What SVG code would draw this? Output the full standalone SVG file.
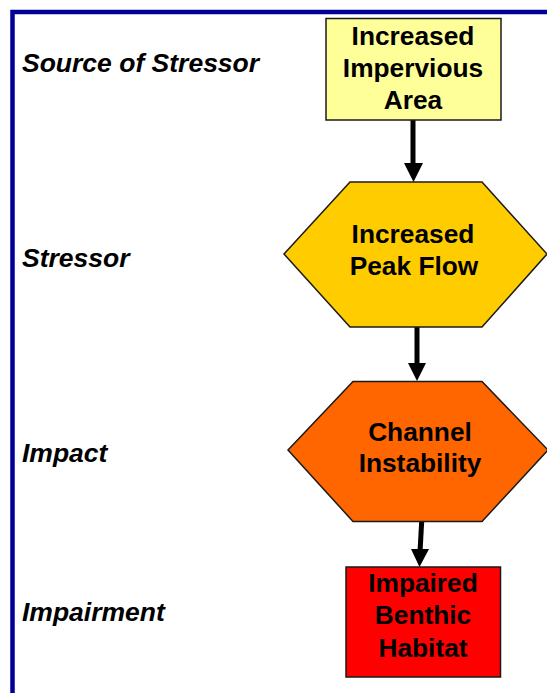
<svg xmlns="http://www.w3.org/2000/svg" width="547" height="693" viewBox="0 0 547 693">
<style>
.lbl{font-family:"Liberation Sans",Arial,sans-serif;font-weight:bold;font-style:italic;font-size:26.5px;fill:#000}
.nt{font-family:"Liberation Sans",Arial,sans-serif;font-weight:bold;font-size:26.3px;fill:#000;text-anchor:middle}
.shape{stroke:#1a1a1a;stroke-width:1.5}
.conn line{stroke:#000;stroke-width:5}
.conn polygon{fill:#000}
</style>
<rect x="0" y="0" width="547" height="693" fill="#fff"/>
<rect x="12.5" y="12" width="600" height="800" fill="none" stroke="#000099" stroke-width="4.5"/>
<g id="labels">
<text class="lbl" x="22" y="72">Source of Stressor</text>
<text class="lbl" x="22" y="267">Stressor</text>
<text class="lbl" x="22" y="462">Impact</text>
<text class="lbl" x="22" y="621">Impairment</text>
</g>
<g id="connectors" class="conn">
<line x1="413" y1="120" x2="413" y2="166"/>
<polygon points="404,163 423,163 413.5,182"/>
<line x1="417" y1="327" x2="417" y2="366"/>
<polygon points="408,363 426,363 417,381"/>
<line x1="421.7" y1="521" x2="420" y2="552"/>
<polygon points="411,549 429,549 419.5,567"/>
</g>
<g id="node-impervious">
<rect class="shape" x="326" y="18.5" width="175" height="101.5" fill="#FFFF99"/>
<text class="nt" x="413" y="44.5">Increased</text>
<text class="nt" x="413" y="77">Impervious</text>
<text class="nt" x="413" y="108.5">Area</text>
</g>
<g id="node-peakflow">
<polygon class="shape" points="350,182 482,182 547,254 482,327 350,327 284,254" fill="#FFCC00"/>
<text class="nt" x="413" y="243">Increased</text>
<text class="nt" x="414" y="275">Peak Flow</text>
</g>
<g id="node-channel">
<polygon class="shape" points="353,381.5 482,381.5 548,450 482,521.5 353,521.5 288,450" fill="#FF6600"/>
<text class="nt" x="420" y="441">Channel</text>
<text class="nt" x="420" y="472">Instability</text>
</g>
<g id="node-habitat">
<rect class="shape" x="346" y="567" width="154.5" height="110" fill="#FF0000"/>
<text class="nt" x="423" y="592">Impaired</text>
<text class="nt" x="423" y="624">Benthic</text>
<text class="nt" x="423" y="657">Habitat</text>
</g>
</svg>
